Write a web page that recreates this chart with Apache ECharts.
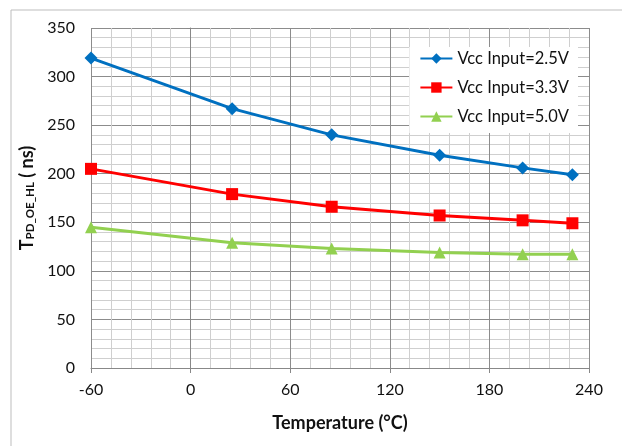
<!DOCTYPE html>
<html>
<head>
<meta charset="utf-8">
<script src="https://cdn.jsdelivr.net/npm/echarts@6/dist/echarts.min.js"></script>
<style>
  html, body { margin: 0; padding: 0; background: #fff; }
  #main { width: 622px; height: 446px; }
</style>
</head>
<body>
<div id="main"></div>
<script>
// temperatures (°C) and propagation delay (ns)
var temps = [-60, 25, 85, 150, 200, 230];
var vcc25 = [319, 267, 240, 219, 206, 199];
var vcc33 = [205, 179, 166, 157, 152, 149];
var vcc50 = [145, 129, 123, 119, 117, 117];
var names = ['Vcc Input=2.5V', 'Vcc Input=3.3V', 'Vcc Input=5.0V'];

function pairs(ys) {
  return temps.map(function (t, i) { return [t, ys[i]]; });
}

var font = 'Lato, "Open Sans", sans-serif';
var chart = echarts.init(document.getElementById('main'));

var option = {
  animation: false,
  textStyle: { fontFamily: font },
  graphic: [{
    type: 'rect',
    shape: { x: 11, y: 10, width: 700, height: 500 },
    style: { fill: 'none', stroke: '#bdbdbd', lineWidth: 1 },
    silent: true
  }],
  grid: { left: 91, top: 28, right: 33, bottom: 78 },
  legend: {
    orient: 'vertical',
    right: 44,
    top: 47,
    padding: [3, 9, 8, 10],
    itemGap: 12,
    itemWidth: 32,
    itemHeight: 13,
    backgroundColor: '#fff',
    textStyle: { fontFamily: font, fontSize: 16.5, color: '#111' },
    data: names
  },
  xAxis: {
    type: 'value',
    min: -60, max: 240, interval: 60,
    name: 'Temperature (°C)',
    nameLocation: 'middle',
    nameGap: 46,
    nameTextStyle: { fontFamily: font, fontSize: 18, fontWeight: 'bold', color: '#111' },
    axisLine: { show: true, lineStyle: { color: '#888' } },
    axisTick: { show: true, length: 5, lineStyle: { color: '#888' } },
    axisLabel: { fontSize: 16, color: '#111', margin: 14 },
    splitLine: { show: true, lineStyle: { color: '#8c8c8c', width: 1 } },
    minorTick: { show: false, splitNumber: 5 },
    minorSplitLine: { show: true, lineStyle: { color: '#cfcfcf', width: 1 } }
  },
  yAxis: {
    type: 'value',
    min: 0, max: 350, interval: 50,
    name: '{b|T}{s|PD_OE_HL}{b| ( ns)}',
    nameLocation: 'middle',
    nameGap: 53,
    nameRotate: 90,
    nameTextStyle: {
      rich: {
        b: { fontFamily: font, fontSize: 18, fontWeight: 'bold', color: '#111', verticalAlign: 'bottom' },
        s: { fontFamily: font, fontSize: 11.5, fontWeight: 'bold', color: '#111', verticalAlign: 'bottom', padding: [8, 0, 0, 0] }
      }
    },
    axisLine: { show: true, lineStyle: { color: '#888' } },
    axisTick: { show: true, length: 4, lineStyle: { color: '#888' } },
    axisLabel: { fontSize: 16, color: '#111', margin: 16 },
    splitLine: { show: true, lineStyle: { color: '#8c8c8c', width: 1 } },
    minorTick: { show: false, splitNumber: 5 },
    minorSplitLine: { show: true, lineStyle: { color: '#cfcfcf', width: 1 } }
  },
  series: [
    {
      name: names[0], type: 'line', data: pairs(vcc25),
      symbol: 'diamond', symbolSize: 13,
      color: '#0070C0',
      lineStyle: { width: 3 },
      z: 5
    },
    {
      name: names[1], type: 'line', data: pairs(vcc33),
      symbol: 'rect', symbolSize: 12,
      color: '#FF0000',
      lineStyle: { width: 3 },
      z: 4
    },
    {
      name: names[2], type: 'line', data: pairs(vcc50),
      symbol: 'triangle', symbolSize: 12,
      color: '#92D050',
      lineStyle: { width: 3 },
      z: 3
    }
  ]
};

chart.setOption(option);
</script>
</body>
</html>
